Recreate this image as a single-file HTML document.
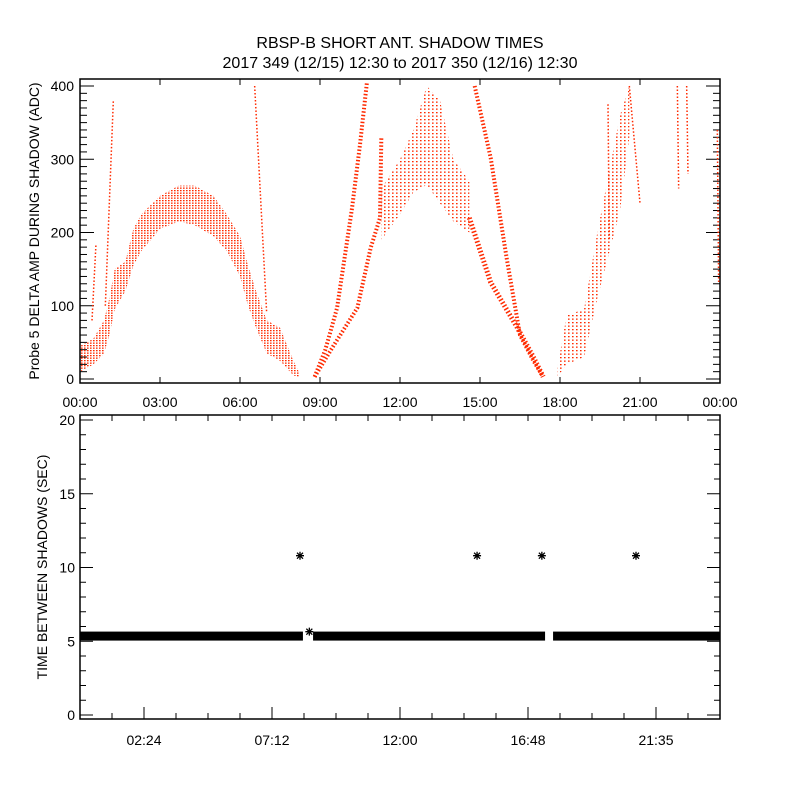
<!DOCTYPE html>
<html><head><meta charset="utf-8"><style>
body{margin:0;background:#fff;}
svg text{font-family:"Liberation Sans","DejaVu Sans",sans-serif;fill:#000;}
</style></head><body>
<svg id="c" width="800" height="800" viewBox="0 0 800 800" xmlns="http://www.w3.org/2000/svg">
<rect width="800" height="800" fill="#fff"/>
<text x="400" y="48" font-size="16" text-anchor="middle">RBSP-B SHORT ANT. SHADOW TIMES</text>
<text x="400" y="68" font-size="16" text-anchor="middle">2017 349 (12/15) 12:30 to 2017 350 (12/16) 12:30</text>
<defs>
<clipPath id="clipTop"><rect x="80" y="79" width="640" height="304"/></clipPath>
<pattern id="dotsA" width="3" height="2.5" patternUnits="userSpaceOnUse"><rect width="1.6" height="1.3" fill="#ff2a00"/></pattern>
<pattern id="dotsB" width="4" height="3.5" patternUnits="userSpaceOnUse"><rect width="1.6" height="1.3" fill="#ff2a00"/></pattern>
</defs>
<g id="topPanel"></g><g id="botPanel"></g>
</svg>
<script>
// ---- top panel data (hours, ADC) ----
const bandATimes=[0,0.5,0.9,1.1,1.3,1.7,2.0,2.3,3.0,3.7,4.3,5.0,5.5,6.0,6.3,6.6,7.0,7.5,8.0,8.2];
const bandALo=[10,20,35,60,95,120,155,175,205,215,210,195,175,140,100,70,35,25,5,3];
const bandAHi=[45,55,80,110,150,160,205,225,250,264,264,250,225,195,155,120,80,70,25,10];
const riseOuterT=[8.8,9.2,9.64,10.2,10.5,10.76];
const riseOuterV=[3,40,97,233,320,405];
const riseInnerT=[8.8,9.5,10.4,10.9,11.25,11.3];
const riseInnerV=[3,45,97,179,220,330];
const cloudT=[11.3,12.0,12.5,13.0,13.5,14.0,14.6];
const cloudLo=[190,225,255,265,240,215,200];
const cloudHi=[260,300,340,400,380,300,270];
const fallInnerT=[14.6,15.4,16.4,17.0,17.37];
const fallInnerV=[220,132,70,30,3];
const fallOuterT=[14.8,15.4,16.0,16.5,17.0,17.37];
const fallOuterV=[400,302,165,60,25,3];
const bandCTimes=[17.9,18.25,18.9,19.4,20.25,20.6];
const bandCLo=[3,20,30,110,230,330];
const bandCHi=[15,87,95,200,360,400];
const spikeT=[[0.95,1.25],[6.55,7.0],[19.8,19.85],[22.4,22.45],[22.75,22.8],[23.9,23.95],[20.6,21.0],[0.45,0.6]];
const spikeV=[[100,380],[400,90],[375,190],[400,260],[400,280],[340,130],[400,240],[80,185]];
// ---- bottom panel data ----
const segStart=[0,8.74,17.74];
const segEnd=[8.36,17.44,24];
const segValue=[5.35,5.35,5.35];
const starT=[8.25,14.89,17.32,20.85,8.6];
const starV=[10.8,10.8,10.8,10.8,5.65];
const topYTicks=[0,100,200,300,400];
const topXLabels=["00:00","03:00","06:00","09:00","12:00","15:00","18:00","21:00","00:00"];
const botYTicks=[0,5,10,15,20];
const botXLabels=["02:24","07:12","12:00","16:48","21:35"];

const NS="http://www.w3.org/2000/svg";
function mk(p,tag,a){const e=document.createElementNS(NS,tag);for(const k in a)e.setAttribute(k,a[k]);p.appendChild(e);return e;}
const L=80,R=720;
const xs=t=>L+t*(R-L)/24;
const ty=v=>379-v*0.7325;
const by=v=>715-v*14.75;
const RED="#ff2a00";
const topG=document.getElementById('topPanel'),botG=document.getElementById('botPanel');

// top frame
let f=mk(topG,'rect',{x:L,y:79,width:R-L,height:304,fill:'none',stroke:'#000','stroke-width':1.5});


for(let v=0;v<=400;v+=10){const len=v%100===0?14:7;const y=ty(v);
 mk(topG,'line',{x1:L,y1:y,x2:L+len,y2:y,stroke:'#000'});mk(topG,'line',{x1:R,y1:y,x2:R-len,y2:y,stroke:'#000'});}
topYTicks.forEach(v=>{const t=mk(topG,'text',{x:L-6,y:ty(v)+5,'font-size':14,'text-anchor':'end'});t.textContent=v;
 
 });
topXLabels.forEach((s,i)=>{const x=xs(i*3);
 mk(topG,'line',{x1:x,y1:383,x2:x,y2:377,stroke:'#000'});mk(topG,'line',{x1:x,y1:79,x2:x,y2:85,stroke:'#000'});
 const t=mk(topG,'text',{x:x,y:407,'font-size':14,'text-anchor':'middle'});t.textContent=s;
 
 });
let yt=mk(topG,'text',{x:0,y:0,'font-size':14,'text-anchor':'middle',transform:'translate(39,231) rotate(-90)'});
yt.textContent='Probe 5 DELTA AMP DURING SHADOW (ADC)';



const g=mk(topG,'g',{'clip-path':'url(#clipTop)'});
function band(ts,lo,hi,name,pat){let d='';ts.forEach((t,i)=>d+=(i?'L':'M')+xs(t)+','+ty(hi[i]));
 for(let i=ts.length-1;i>=0;i--)d+='L'+xs(ts[i])+','+ty(lo[i]);
 const p=mk(g,'path',{d:d+'Z',fill:'url(#'+pat+')'});
 
 }
function line(ts,vs,name,w){const pts=ts.map((t,i)=>xs(t)+','+ty(vs[i])).join(' ');
 const p=mk(g,'polyline',{points:pts,fill:'none',stroke:RED,'stroke-width':w,'stroke-dasharray':'1.5 2'});
 
 }
band(bandATimes,bandALo,bandAHi,'first-arch-points','dotsA');
line(riseOuterT,riseOuterV,'rising-outer-points',4);
line(riseInnerT,riseInnerV,'rising-inner-points',4);
band(cloudT,cloudLo,cloudHi,'midday-cloud-points','dotsB');
line(fallInnerT,fallInnerV,'falling-inner-points',5);
line(fallOuterT,fallOuterV,'falling-outer-points',4);
band(bandCTimes,bandCLo,bandCHi,'evening-rise-points','dotsB');
spikeT.forEach((ts,i)=>line(ts,spikeV[i],'spike-points',1.5));

// bottom frame
f=mk(botG,'rect',{x:L,y:415,width:R-L,height:304,fill:'none',stroke:'#000','stroke-width':1.5});


for(let v=0;v<=20;v++){const len=v%5===0?13:6;const y=by(v);
 mk(botG,'line',{x1:L,y1:y,x2:L+len,y2:y,stroke:'#000'});mk(botG,'line',{x1:R,y1:y,x2:R-len,y2:y,stroke:'#000'});}
botYTicks.forEach(v=>{const t=mk(botG,'text',{x:L-5,y:by(v)+5,'font-size':14,'text-anchor':'end'});t.textContent=v;
 
 });
for(let i=1;i<20;i++){const x=xs(i*1.2);const len=i%4===2?12:6;
 mk(botG,'line',{x1:x,y1:719,x2:x,y2:719-len,stroke:'#000'});mk(botG,'line',{x1:x,y1:415,x2:x,y2:421,stroke:'#000'});}
botXLabels.forEach((s,i)=>{const t=mk(botG,'text',{x:xs(2.4+i*4.8),y:745,'font-size':14,'text-anchor':'middle'});t.textContent=s;
 
 });
yt=mk(botG,'text',{x:0,y:0,'font-size':14,'text-anchor':'middle',transform:'translate(47,567) rotate(-90)'});
yt.textContent='TIME BETWEEN SHADOWS (SEC)';


segStart.forEach((s,i)=>{const x0=Math.max(L,xs(s)),x1=Math.min(R,xs(segEnd[i]));
 const r=mk(botG,'rect',{x:x0,y:by(segValue[i])-4.5,width:x1-x0,height:9,fill:'#000'});
 
 });
starT.forEach((t,i)=>{const x=xs(t),y=by(starV[i]),r=4;
 const s=mk(botG,'path',{d:`M${x-r},${y}H${x+r}M${x},${y-r}V${y+r}M${x-3},${y-3}L${x+3},${y+3}M${x-3},${y+3}L${x+3},${y-3}`,stroke:'#000','stroke-width':1.3,fill:'none'});
 
 });
</script>
</body></html>
